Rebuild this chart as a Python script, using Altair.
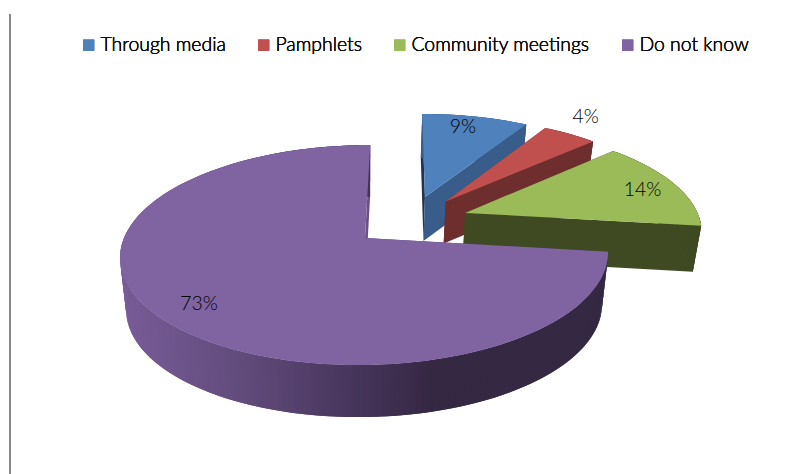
import math
import altair as alt

categories = ["Through media", "Pamphlets", "Community meetings", "Do not know"]
values = [8.6, 4.4, 14, 73]
labels = ["9%", "4%", "14%", "73%"]
top_colors = ["#4f81bd", "#c0504d", "#9bbb59", "#8064a2"]
wall_colors = ["#385d8a", "#6e2e2d", "#3f4a23", "#4d3a60"]
start_wall_colors = ["#1d3454", "#6e2e2d", "#3f4a23", "#6b4f88"]
depths = [44, 42, 46, 52]
label_angle = [13.6, 36.1, 73.4, 227.6]
label_radius = [0.847, 1.24, 0.835, 0.832]

# view of the tilted disc, page pixels less the 8px margin
AX, AY, RA, RB, K, SH = 357.0, 230.0, 241.0, 107.4, 0.155, 6.0
EXPLODE, SHRINK = 0.25, 0.025


def proj(X, Y):
    w = 1 + K * Y
    return (AX + (RA * X + SH * Y) / w, AY - RB * Y / w)


def lower(p, depth):
    return (p[0] - (p[0] - AX) * SHRINK, p[1] + depth)


def mix(c1, c2, t):
    a = [int(c1[i:i + 2], 16) for i in (1, 3, 5)]
    b = [int(c2[i:i + 2], 16) for i in (1, 3, 5)]
    return "#" + "".join(f"{round(u + (v - u) * t):02x}" for u, v in zip(a, b))


def purple_shade(x):
    stops = [(111, "#785c98"), (240, "#604a7a"), (340, "#48365d"), (425, "#352843"), (800, "#332842")]
    for (x0, c0), (x1, c1) in zip(stops, stops[1:]):
        if x <= x1:
            return mix(c0, c1, max(0.0, (x - x0) / (x1 - x0)))
    return stops[-1][1]


def feat(name, color, ring):
    ring = [list(p) for p in ring] + [list(ring[0])]
    return {"type": "Feature", "properties": {"name": name, "color": color},
            "geometry": {"type": "Polygon", "coordinates": [ring]}}


total = sum(values)
mid_last = math.radians((total - values[-1] / 2) / total * 360)
base = (-math.sin(mid_last) * EXPLODE, -math.cos(mid_last) * EXPLODE)

tops, walls, text_rows = [], [], []
cum = 0
for i, v in enumerate(values):
    t0 = cum / total * 2 * math.pi
    t1 = (cum + v) / total * 2 * math.pi
    cum += v
    tm = (t0 + t1) / 2
    ox = base[0] + EXPLODE * math.sin(tm)
    oy = base[1] + EXPLODE * math.cos(tm)
    n = max(8, int(v * 3))
    arc = [proj(ox + math.sin(t0 + (t1 - t0) * j / n), oy + math.cos(t0 + (t1 - t0) * j / n)) for j in range(n + 1)]
    apex = proj(ox, oy)
    d = depths[i]
    w = []
    # radial faces
    first = start_wall_colors[i] if i < 3 else wall_colors[i]
    second = start_wall_colors[i] if i == 3 else wall_colors[i]
    w.append(feat(categories[i], first, [apex, arc[0], lower(arc[0], d), lower(apex, d)]))
    w.append(feat(categories[i], second, [apex, arc[-1], lower(arc[-1], d), lower(apex, d)]))
    # outer wall
    for j in range(n):
        q = min(j + 2, n)
        col = purple_shade((arc[j][0] + arc[j + 1][0]) / 2) if i == 3 else wall_colors[i]
        w.append(feat(categories[i], col, [arc[j], arc[q], lower(arc[q], d), lower(arc[j], d)]))
    walls.append(w)
    tops.append(feat(categories[i], top_colors[i], [apex] + arc))
    la = math.radians(label_angle[i])
    lp = proj(ox + label_radius[i] * math.sin(la), oy + label_radius[i] * math.cos(la))
    text_rows.append({"lon": lp[0], "lat": lp[1], "label": labels[i]})

projection = dict(type="identity", scale=1, translate=[0, 0])
color_scale = alt.Scale(domain=categories, range=top_colors)
legend = alt.Legend(
    orient="none", legendX=71, legendY=27, direction="horizontal", columns=4, title=None,
    symbolType="square", symbolSize=121, symbolStrokeWidth=0, columnPadding=28, labelOffset=2,
    labelFont="Lato", labelFontSize=19.4, labelFontWeight=300, labelColor="#0d0d0d", labelLimit=300, symbolOpacity=1,
)

layers = [
    alt.Chart(alt.Data(values=[{"v": 1}])).mark_rule(color="#878787", strokeWidth=2).encode(
        x=alt.value(2), y=alt.value(6), y2=alt.value(466)
    )
]
for i in range(4):
    layers.append(
        alt.Chart(alt.Data(values=walls[i])).mark_geoshape(strokeWidth=0).encode(
            color=alt.Color("properties.color:N", scale=None)
        ).project(**projection)
    )
    layers.append(
        alt.Chart(alt.Data(values=[tops[i]])).mark_geoshape(strokeWidth=0).encode(
            color=alt.Color("properties.name:N", scale=color_scale, legend=legend)
        ).project(**projection)
    )
layers.append(
    alt.Chart(alt.Data(values=text_rows)).mark_text(font="Lato", fontSize=19.4, fontWeight=300, color="#000000").encode(
        longitude="lon:Q", latitude="lat:Q", text="label:N"
    ).project(**projection)
)

chart = alt.layer(*layers).resolve_scale(color="independent").properties(
    width=778, height=466, padding=0, autosize=alt.AutoSizeParams(type="none"),
).configure_view(stroke=None)

chart.save("out.html", embed_options={"renderer": "svg", "actions": False})
